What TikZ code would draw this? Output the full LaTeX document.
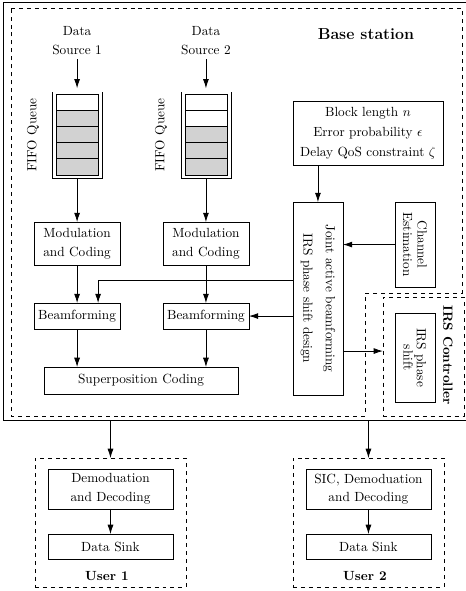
\documentclass[tikz,border=0pt]{standalone}
\usetikzlibrary{arrows.meta,positioning,calc}
\begin{document}
\begin{tikzpicture}[line width=0.6pt,every node/.style={font=\normalsize},
  box/.style={draw,align=center,inner sep=2pt,outer sep=0pt},
  zone/.style={draw,dashed,outer sep=0pt},
  arr/.style={-{Latex[length=7pt,width=4.5pt]}}]
  \useasboundingbox (0,0) rectangle (12.33,15.64);

  %% Outer frame, base station and IRS controller regions
  \node[draw,minimum width=12.36cm,minimum height=11.06cm,outer sep=0pt] (frame) at (6.257,10.054) {};
  \draw[dashed] (0.291,15.425) -- (12.224,15.425) -- (12.224,7.885) -- (9.657,7.885)
        -- (9.657,4.630) -- (0.291,4.630) -- cycle;
  \node[zone,minimum width=2.143cm,minimum height=3.149cm] (irsctl) at (11.205,6.204) {};
  \node[font=\large\bfseries] (bslabel) at (9.684,14.737) {Base station};
  \node[font=\bfseries,rotate=-90] (irslabel) at (11.853,6.244) {IRS Controller};

  %% Data sources and FIFO queues
  \node[align=center] (src1) at (2.04,14.565) {Data\\[2pt]Source 1};
  \node[align=center] (src2) at (5.45,14.565) {Data\\[2pt]Source 2};
  \node[minimum width=1.323cm,minimum height=2.275cm,outer sep=0pt] (q1) at (2.04,12.065) {};
  \node[minimum width=1.323cm,minimum height=2.275cm,outer sep=0pt] (q2) at (5.45,12.065) {};
  \node[rotate=90] (fifo1) at (0.873,12.065) {FIFO Queue};
  \node[rotate=90] (fifo2) at (4.26,12.065) {FIFO Queue};
  \foreach \q/\w in {q1/1,q2/2}{
    \draw (\q.north west) -- (\q.south west) -- (\q.south east) -- (\q.north east);
    \foreach \i in {1,...,5}{
      \pgfmathtruncatemacro\shade{\i>\w ? 35 : 0}
      \draw[fill=gray!\shade] ([xshift=0.106cm,yshift={-0.053cm-(\i-1)*0.4286cm}]\q.north west)
            rectangle ++(1.111,-0.4286);
    }
  }

  %% Transmitter chain
  \node[box,minimum width=2.275cm,minimum height=1.138cm] (mod1) at (2.04,9.194) {Modulation\\[2pt]and Coding};
  \node[box,minimum width=2.275cm,minimum height=1.138cm] (mod2) at (5.45,9.194) {Modulation\\[2pt]and Coding};
  \node[box,minimum width=2.275cm,minimum height=0.688cm] (bf1) at (2.04,7.276) {Beamforming};
  \node[box,minimum width=2.275cm,minimum height=0.688cm] (bf2) at (5.45,7.276) {Beamforming};
  \node[box,minimum width=5.133cm,minimum height=0.714cm] (sup) at (3.731,5.57) {Superposition Coding};

  %% Design blocks
  \node[box,minimum width=3.969cm,minimum height=1.693cm] (param) at (9.737,12.118)
        {Block length $n$\\[3pt]Error probability $\epsilon$\\[3pt]Delay QoS constraint $\zeta$};
  \node[box,minimum width=1.323cm,minimum height=5.106cm,
        label={[rotate=-90,align=center]center:Joint active beamforming\\[5pt]IRS phase shift design}]
        (joint) at (8.414,7.739) {};
  \node[box,minimum width=1.058cm,minimum height=2.249cm,
        label={[rotate=-90,align=center]center:Channel\\[-1pt]Estimation}] (chan) at (10.98,9.168) {};
  \node[box,minimum width=1.058cm,minimum height=2.355cm,
        label={[rotate=-90,align=center]center:IRS phase\\[-2pt]shift}] (irsps) at (10.98,6.178) {};

  %% Users
  \node[zone,minimum width=3.995cm,minimum height=3.413cm] (user1) at (2.924,1.812) {};
  \node[zone,minimum width=3.995cm,minimum height=3.413cm] (user2) at (9.750,1.812) {};
  \node[box,minimum width=3.307cm,minimum height=1.058cm] (dec1) at (2.924,2.699) {Demoduation\\[2pt]and Decoding};
  \node[box,minimum width=3.307cm,minimum height=0.661cm] (sink1) at (2.924,1.177) {Data Sink};
  \node[box,minimum width=3.307cm,minimum height=1.058cm] (dec2) at (9.750,2.699) {SIC, Demoduation\\[2pt]and Decoding};
  \node[box,minimum width=3.307cm,minimum height=0.661cm] (sink2) at (9.750,1.177) {Data Sink};
  \node[font=\bfseries] (u1label) at (2.831,0.397) {User 1};
  \node[font=\bfseries] (u2label) at (9.657,0.397) {User 2};

  %% Connectors
  \draw[arr] (src1) -- ([yshift=0.1cm]q1.north);
  \draw[arr] (src2) -- ([yshift=0.1cm]q2.north);
  \draw[arr] (q1.south) -- (mod1.north);
  \draw[arr] (q2.south) -- (mod2.north);
  \draw[arr] (mod1) -- (bf1);
  \draw[arr] (mod2) -- (bf2);
  \draw[arr] (bf1.south) -- (bf1.south |- sup.north);
  \draw[arr] (bf2.south) -- (bf2.south |- sup.north);
  \draw[arr] (joint.north |- param.south) -- (joint.north);
  \draw[arr] (chan.west) -- (chan.west -| joint.east);
  \draw[arr] ([yshift=0.49cm]joint.west) -| ([xshift=0.556cm]bf1.north);
  \draw[arr] (joint.west |- bf2.east) -- (bf2.east);
  \coordinate (jtap) at ([yshift=-1.389cm]joint.east);
  \draw[arr] (jtap) -- (jtap -| irsctl.west);
  \draw[arr] (frame.south -| user1.north) -- (user1.north);
  \draw[arr] (frame.south -| user2.north) -- (user2.north);
  \draw[arr] (dec1) -- (sink1);
  \draw[arr] (dec2) -- (sink2);
\end{tikzpicture}
\end{document}
